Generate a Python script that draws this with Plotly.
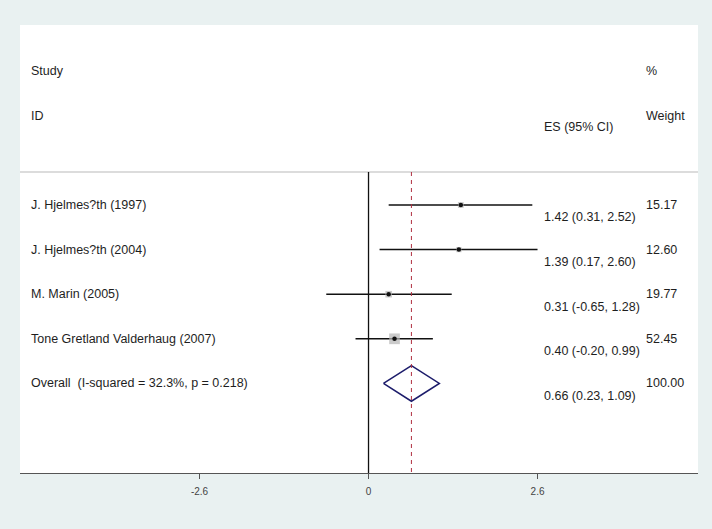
import plotly.graph_objects as go

# study-level results (ES with 95% CI) and % weights
studies = ["J. Hjelmes?th (1997)", "J. Hjelmes?th (2004)", "M. Marin (2005)",
           "Tone Gretland Valderhaug (2007)"]
es = [1.42, 1.39, 0.31, 0.40]
ci_lo = [0.31, 0.17, -0.65, -0.20]
ci_hi = [2.52, 2.60, 1.28, 0.99]
weights = [15.17, 12.60, 19.77, 52.45]

overall_label = "Overall  (I-squared = 32.3%, p = 0.218)"
overall_es, overall_lo, overall_hi = 0.66, 0.23, 1.09
overall_weight = 100.00

tick_vals = [-2.6, 0, 2.6]
tick_text = ["-2.6", "0", "2.6"]

rows = [1, 2, 3, 4]
overall_row = 5

FONT = "Liberation Sans, Arial, sans-serif"
TXT = "#1e1e1e"
Y_TOP, Y_BOT = -3.036, 7.009
SEP_Y = 0.26

fig = go.Figure()

# confidence interval lines
xs, ys = [], []
for r, l, h in zip(rows, ci_lo, ci_hi):
    xs += [l, h, None]
    ys += [r, r, None]
fig.add_trace(go.Scatter(x=xs, y=ys, mode="lines",
                         line=dict(color="#111111", width=1.5), hoverinfo="skip"))

# weight boxes (area ~ weight) and point estimates
box_sizes = [10.7 * (w / max(weights)) ** 0.5 for w in weights]
fig.add_trace(go.Scatter(x=es, y=rows, mode="markers",
                         marker=dict(symbol="square", size=box_sizes, color="#b5b5b5",
                                     line=dict(width=0)), hoverinfo="skip"))
fig.add_trace(go.Scatter(x=es, y=rows, mode="markers",
                         marker=dict(symbol="circle", size=4.5, color="#111111"),
                         hoverinfo="skip"))

# pooled diamond
fig.add_trace(go.Scatter(
    x=[overall_lo, overall_es, overall_hi, overall_es, overall_lo],
    y=[overall_row, overall_row - 0.4, overall_row, overall_row + 0.4, overall_row],
    mode="lines", line=dict(color="#1c1c6b", width=1.5), hoverinfo="skip"))

# header separator, null line, pooled-estimate dashed line
fig.add_shape(type="line", xref="paper", x0=0, x1=1, yref="y", y0=SEP_Y, y1=SEP_Y,
              line=dict(color="#b9b9b9", width=1))
fig.add_shape(type="line", xref="x", x0=0, x1=0, yref="y", y0=SEP_Y, y1=Y_BOT,
              line=dict(color="#111111", width=1.3))
fig.add_shape(type="line", xref="x", x0=overall_es, x1=overall_es, yref="y",
              y0=SEP_Y, y1=Y_BOT, line=dict(color="#b03040", width=1, dash="4px,4px"))

X_LABEL, X_ES, X_W = -5.223, 2.67, 4.24


def txt(x, y, s):
    fig.add_annotation(x=x, y=y, xref="x", yref="y", text=s, showarrow=False,
                       xanchor="left", yanchor="middle",
                       font=dict(family=FONT, size=12.5, color=TXT))


# headers
txt(X_LABEL, -2.0, "Study")
txt(X_LABEL, -1.0, "ID")
txt(X_ES, -0.75, "ES (95% CI)")
txt(X_W, -2.0, "%")
txt(X_W, -1.0, "Weight")

for r, s, e, l, h, w in zip(rows, studies, es, ci_lo, ci_hi, weights):
    txt(X_LABEL, r, s)
    txt(X_ES, r + 0.28, f"{e:.2f} ({l:.2f}, {h:.2f})")
    txt(X_W, r, f"{w:.2f}")

txt(X_LABEL, overall_row, overall_label)
txt(X_ES, overall_row + 0.28, f"{overall_es:.2f} ({overall_lo:.2f}, {overall_hi:.2f})")
txt(X_W, overall_row, f"{overall_weight:.2f}")

fig.update_layout(
    width=712, height=529,
    margin=dict(l=20, r=14, t=25, b=56),
    paper_bgcolor="#e9f1f1", plot_bgcolor="white",
    showlegend=False,
    font=dict(family=FONT, color=TXT),
    xaxis=dict(range=[-5.362, 5.069], tickvals=tick_vals, ticktext=tick_text,
               ticks="outside", ticklen=5, tickcolor="#555555", tickwidth=1,
               ticklabelstandoff=4,
               showline=True, linecolor="#555555", linewidth=1,
               showgrid=False, zeroline=False, fixedrange=True,
               tickfont=dict(family=FONT, size=10, color="#444444")),
    yaxis=dict(range=[Y_BOT, Y_TOP], visible=False, fixedrange=True),
)

# drop the browser's default body margin so the figure sits at the window corner
fig.write_html("out.html", config={"displayModeBar": False},
               post_script="document.body.style.margin='0';")
